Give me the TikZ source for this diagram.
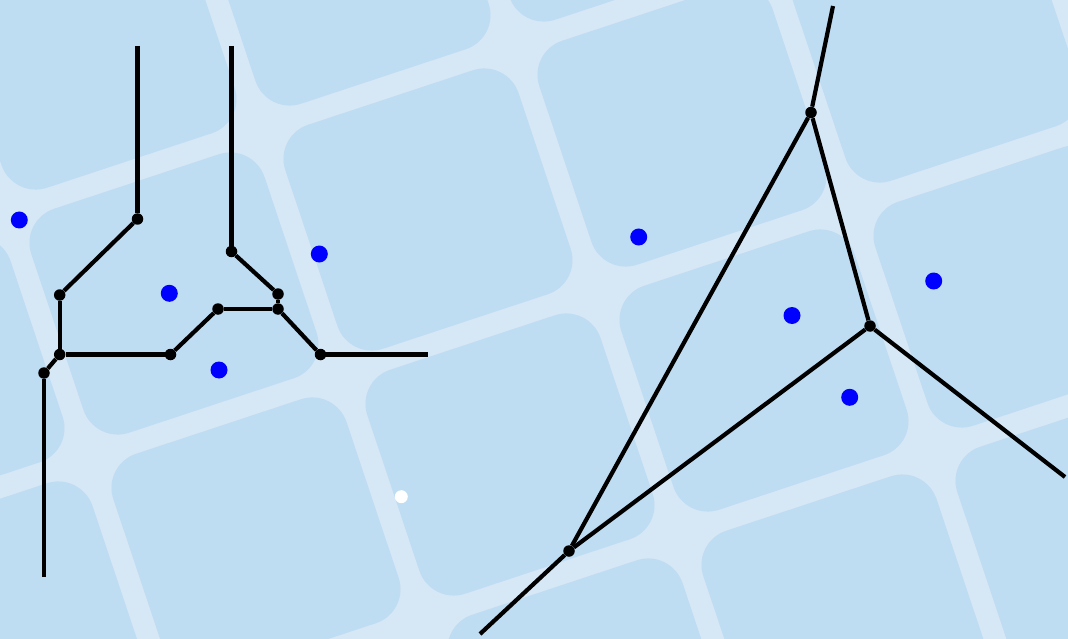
\documentclass[tikz,border=0pt]{standalone}
\definecolor{gapblue}{RGB}{214,231,246}
\definecolor{tileblue}{RGB}{190,220,242}
\begin{document}
\begin{tikzpicture}[x=1pt,y=-1pt,
  vertex/.style={circle,fill=black,inner sep=0pt,minimum size=11.5pt},
  site/.style={circle,fill=blue,inner sep=0pt,minimum size=17pt},
  hole/.style={circle,fill=white,inner sep=0pt,minimum size=13pt},
  edge/.style={line width=4.2pt,black}]
% backdrop: pale sheet with a tilted grid of rounded tiles
\fill[gapblue] (0,0) rectangle (1068,639);
\useasboundingbox (0,0) rectangle (1068,639);
\begin{scope}
  \clip (0,0) rectangle (1068,639);
  \begin{scope}[shift={(514,45)}, x={(254pt,84pt)}, y={(82pt,-245pt)}]
    \foreach \i in {-3,...,2} \foreach \j in {-1,...,2} {
      \fill[tileblue, rounded corners=36pt]
        (\i+0.041,\j+0.043) -- (\i+0.959,\j+0.043) -- (\i+0.959,\j+0.957)
        -- (\i+0.041,\j+0.957) -- cycle;
    }
  \end{scope}
\end{scope}

% left diagram: vertices and open ends
\coordinate (t1) at (137.5,46);
\node[vertex] (a) at (137.5,219) {};
\node[vertex] (b) at (59.7,295) {};
\node[vertex] (c) at (59.7,354.5) {};
\node[vertex] (d) at (44,373) {};
\coordinate (b1) at (44,577);
\node[vertex] (e) at (170.5,354.5) {};
\node[vertex] (f) at (218,309) {};
\node[vertex] (g) at (278,309) {};
\coordinate (t2) at (231.5,46);
\node[vertex] (h) at (231.5,251.5) {};
\node[vertex] (k) at (278,294) {};
\node[vertex] (m) at (320.5,354.5) {};
\coordinate (r1) at (428,354.5);

\draw[edge] (t1) -- (a);
\draw[edge] (a) -- (b);
\draw[edge] (b) -- (c);
\draw[edge] (c) -- (e);
\draw[edge] (c) -- (d);
\draw[edge] (d) -- (b1);
\draw[edge] (e) -- (f);
\draw[edge] (f) -- (g);
\draw[edge] (t2) -- (h);
\draw[edge] (h) -- (k);
\draw[edge] (k) -- (g);
\draw[edge] (g) -- (m);
\draw[edge] (m) -- (r1);

% right diagram
\coordinate (t3) at (833,6);
\node[vertex] (p) at (811,112.5) {};
\node[vertex] (q) at (870,326) {};
\coordinate (r2) at (1065,477);
\node[vertex] (s) at (569,551) {};
\coordinate (b2) at (480,634);

\draw[edge] (t3) -- (p);
\draw[edge] (p) -- (q);
\draw[edge] (q) -- (r2);
\draw[edge] (s) -- (p);
\draw[edge] (s) -- (q);
\draw[edge] (s) -- (b2);

% sites
\node[site] (s1) at (19.3,220) {};
\node[site] (s2) at (169.3,293.3) {};
\node[site] (s3) at (319.3,254) {};
\node[site] (s4) at (219,370) {};
\node[site] (s5) at (638.7,237) {};
\node[site] (s6) at (792,315.5) {};
\node[site] (s7) at (933.7,281) {};
\node[site] (s8) at (849.7,397.3) {};
\node[hole] (w1) at (401.3,496.7) {};
\end{tikzpicture}
\end{document}
